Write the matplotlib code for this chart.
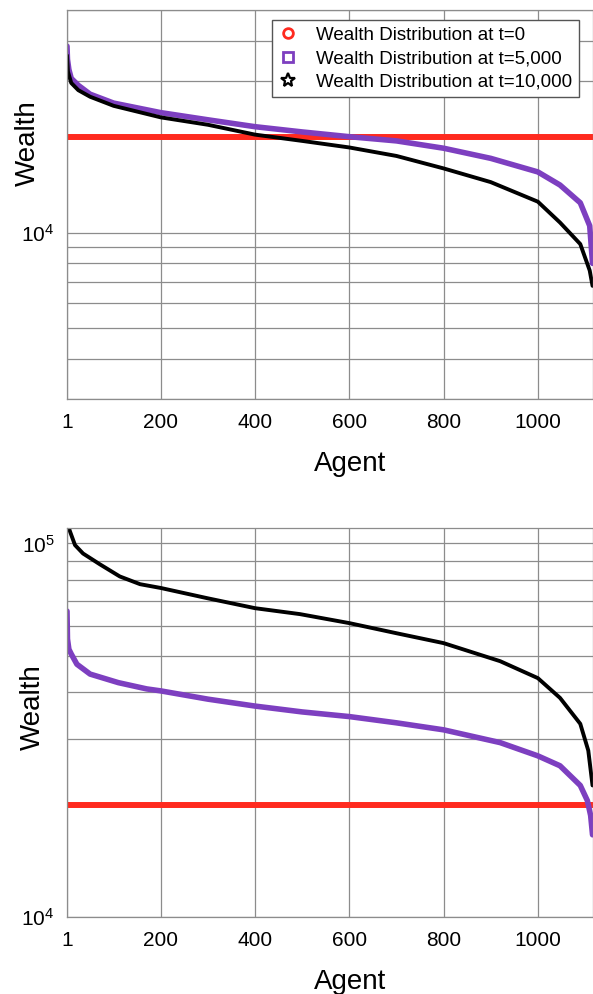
import matplotlib
matplotlib.use("Agg")
import matplotlib.pyplot as plt
from matplotlib.lines import Line2D
from matplotlib.ticker import LogLocator, LogFormatterSciNotation, NullFormatter, FixedLocator

plt.rcParams['font.family'] = ['Liberation Sans', 'DejaVu Sans']
plt.rcParams['mathtext.fontset'] = 'custom'
plt.rcParams['mathtext.rm'] = 'Liberation Sans'
plt.rcParams['mathtext.it'] = 'Liberation Sans'

# ---------------- data ----------------
x_ticks = [1, 200, 400, 600, 800, 1000]
legend_labels = ["Wealth Distribution at t=0",
                 "Wealth Distribution at t=5,000",
                 "Wealth Distribution at t=10,000"]

# top panel
top_agents_t0 = [1, 1116]
top_wealth_t0 = [20000, 20000]

top_agents_5k = [1, 2, 5, 10, 25, 50, 100, 200, 300, 400, 500, 600, 700, 800,
                 900, 1000, 1047, 1090, 1110, 1116]
top_wealth_5k = [38500, 35000, 32500, 30500, 29000, 27200, 25500, 23800, 22600,
                 21500, 20700, 20000, 19400, 18400, 17100, 15500, 14100, 12400,
                 10500, 8000]

top_agents_10k = [1, 3, 10, 25, 50, 100, 200, 300, 400, 500, 600, 700, 800, 900,
                  1000, 1047, 1090, 1110, 1116]
top_wealth_10k = [36000, 32000, 29500, 28000, 26700, 25000, 23000, 21800, 20300,
                  19400, 18500, 17400, 15900, 14400, 12500, 10750, 9200, 7600, 6800]

# bottom panel
bot_agents_t0 = [1, 1116]
bot_wealth_t0 = [20000, 20000]

bot_agents_5k = [1, 2, 5, 10, 22, 50, 110, 170, 200, 300, 400, 500, 600, 700, 800,
                 920, 1000, 1047, 1090, 1105, 1112, 1116]
bot_wealth_5k = [65900, 55500, 52100, 50600, 47500, 44700, 42400, 40800, 40300,
                 38300, 36700, 35400, 34400, 33100, 31700, 29300, 27000, 25400,
                 22500, 20500, 18700, 16600]

bot_agents_10k = [1, 7, 18, 35, 71, 113, 156, 200, 300, 400, 495, 600, 700, 800,
                  920, 1000, 1047, 1090, 1107, 1116]
bot_wealth_10k = [115000, 108000, 99000, 94000, 87900, 81600, 77800, 76000, 71300,
                  67100, 64700, 61200, 57500, 54100, 48400, 43600, 38600, 32900,
                  27900, 22500]

# ---------------- styling ----------------
RED = '#ff2a1f'
PURPLE = '#7d3fc0'
BLACK = '#000000'
GRID = '#8c8c8c'

W, H = 593, 994
fig = plt.figure(figsize=(W / 100, H / 100), dpi=100)

def px_axes(left, top, right, bottom):
    return fig.add_axes([left / W, 1 - bottom / H, (right - left) / W, (bottom - top) / H])

ax1 = px_axes(67, 10, 593, 399)
ax2 = px_axes(67, 528, 593, 917)

def style(ax, ylim):
    ax.set_yscale('log')
    ax.set_xlim(1, 1117)
    ax.set_ylim(*ylim)
    ax.xaxis.set_major_locator(FixedLocator(x_ticks))
    ax.set_xticklabels([str(t) for t in x_ticks])
    ax.yaxis.set_major_locator(LogLocator(base=10))
    ax.yaxis.set_major_formatter(LogFormatterSciNotation())
    ax.yaxis.set_minor_locator(LogLocator(base=10, subs=range(2, 10)))
    ax.yaxis.set_minor_formatter(NullFormatter())
    ax.grid(True, which='both', axis='y', color=GRID, lw=0.9)
    ax.grid(True, which='major', axis='x', color=GRID, lw=0.9)
    ax.set_axisbelow(True)
    ax.tick_params(which='both', length=0)
    ax.tick_params(axis='x', labelsize=15, pad=10)
    ax.tick_params(axis='y', labelsize=15, pad=9)
    for s in ax.spines.values():
        s.set_color(GRID)
        s.set_linewidth(0.9)
    ax.set_xlabel('Agent', fontsize=20, va='top')
    ax.xaxis.set_label_coords(0.538, -0.134)

style(ax1, (3000, 50000))
style(ax2, (10000, 110000))

ax1.set_ylabel('Wealth', fontsize=20, va='center', ha='center')
ax1.yaxis.set_label_coords(-0.074, 0.658)
ax2.set_ylabel('Wealth', fontsize=20, va='center', ha='center')
ax2.yaxis.set_label_coords(-0.065, 0.54)

for ax, (a0, w0), (a5, w5), (a10, w10) in [
    (ax1, (top_agents_t0, top_wealth_t0), (top_agents_5k, top_wealth_5k), (top_agents_10k, top_wealth_10k)),
    (ax2, (bot_agents_t0, bot_wealth_t0), (bot_agents_5k, bot_wealth_5k), (bot_agents_10k, bot_wealth_10k)),
]:
    ax.plot(a0, w0, color=RED, lw=4.3, solid_capstyle='round')
    ax.plot(a5, w5, color=PURPLE, lw=4.0, solid_capstyle='round', solid_joinstyle='round')
    ax.plot(a10, w10, color=BLACK, lw=2.8, solid_capstyle='round', solid_joinstyle='round')

handles = [
    Line2D([], [], ls='none', marker='o', ms=7, mfc='none', mec=RED, mew=2),
    Line2D([], [], ls='none', marker='s', ms=7, mfc='none', mec=PURPLE, mew=2),
    Line2D([], [], ls='none', marker='*', ms=10, mfc='none', mec=BLACK, mew=1.6),
]
leg = ax1.legend(handles, legend_labels, loc='upper right',
                 bbox_to_anchor=((579 - 67) / 526, 0.974), borderaxespad=0,
                 fontsize=13.5, fancybox=False, framealpha=1,
                 edgecolor='#555555', handlelength=1.0, handletextpad=1.0,
                 borderpad=0.36, labelspacing=0.33)
leg.get_frame().set_linewidth(1.0)

fig.savefig('out.png', dpi=100)
